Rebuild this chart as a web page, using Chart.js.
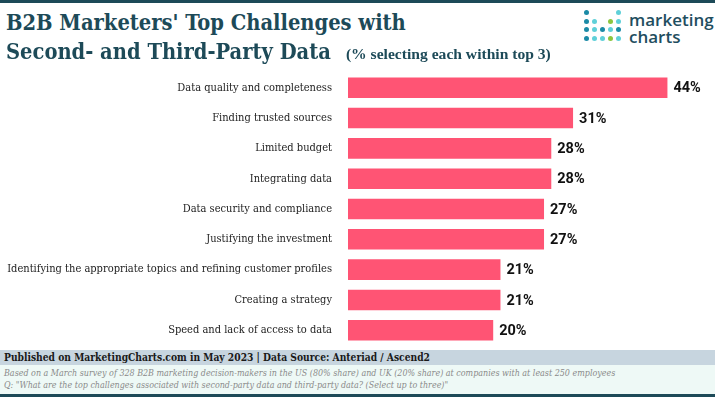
<!DOCTYPE html>
<html>
<head>
<meta charset="utf-8">
<script src="https://cdn.jsdelivr.net/npm/chart.js@4"></script>
<style>
  html, body { margin: 0; padding: 0; background: #fff; }
  #wrap { position: relative; width: 715px; height: 397px; overflow: hidden; background: #fff; }
  .topline { position: absolute; left: 0; top: 0; width: 715px; height: 3px; background: #1d4a58; }
  .title { position: absolute; left: 6px; font-family: "DejaVu Serif Condensed", "DejaVu Serif", serif; font-weight: bold; color: #1d4a58; font-size: 21.7px; line-height: 1; white-space: nowrap; }
  .sub { font-family: "Liberation Serif", serif; font-size: 15.6px; font-weight: bold; margin-left: 15px; }
  #chartBox { position: absolute; left: 0; top: 58px; width: 715px; height: 302px; }
  .pub { position: absolute; left: 0; top: 350px; width: 715px; height: 15px; background: #c7d5df; font-family: "DejaVu Serif Condensed", serif; font-weight: bold; font-size: 10.2px; color: #1a1a1a; line-height: 15px; padding-left: 4px; box-sizing: border-box; white-space: nowrap; }
  .notes { position: absolute; left: 0; top: 365px; width: 715px; height: 29px; background: #eef9f6; font-family: "DejaVu Serif Condensed", serif; font-style: italic; font-size: 8.9px; color: #8a8a8a; line-height: 11.5px; padding: 3px 0 0 4px; box-sizing: border-box; white-space: nowrap; }
  .botline { position: absolute; left: 0; top: 394px; width: 715px; height: 3px; background: #1d4a58; }
  .dot { position: absolute; width: 5px; height: 5px; border-radius: 50%; }
  .logo { position: absolute; left: 629px; font-family: "Open Sans", sans-serif; font-weight: 600; font-size: 17px; color: #1f4e5f; line-height: 18px; }
</style>
</head>
<body>
<div id="wrap">
  <div class="topline"></div>
  <div id="chartBox"><canvas id="barChart"></canvas></div>
  <div class="title" style="top:11.5px;">B2B Marketers' Top Challenges with</div>
  <div class="title" style="top:40.5px;">Second- and Third-Party Data<span class="sub">(% selecting each within top 3)</span></div>
  <div id="logoDots"></div>
  <div class="logo" style="top:11px;">marketing</div>
  <div class="logo" style="top:28px;">charts</div>
  <div class="pub">Published on MarketingCharts.com in May 2023 | Data Source: Anteriad / Ascend2</div>
  <div class="notes">Based on a March survey of 328 B2B marketing decision-makers in the US (80% share) and UK (20% share) at companies with at least 250 employees<br>Q: "What are the top challenges associated with second-party data and third-party data? (Select up to three)"</div>
  <div class="botline"></div>
</div>
<script>
const categories = [
    'Data quality and completeness',
    'Finding trusted sources',
    'Limited budget',
    'Integrating data',
    'Data security and compliance',
    'Justifying the investment',
    'Identifying the appropriate topics and refining customer profiles',
    'Creating a strategy',
    'Speed and lack of access to data'
];
const shares = [44, 31, 28, 28, 27, 27, 21, 21, 20];

// logo dots (col, row, colour)
const logoDots = [
    [0, 0, '#1b8aa6'], [4, 0, '#5fd0d8'],
    [0, 1, '#1b8aa6'], [1, 1, '#5fd0d8'], [3, 1, '#8cc63f'], [4, 1, '#5fd0d8'],
    [0, 2, '#1b8aa6'], [1, 2, '#5fd0d8'], [2, 2, '#1b8aa6'], [3, 2, '#5fd0d8'], [4, 2, '#1b8aa6'],
    [0, 3, '#1b8aa6'], [1, 3, '#5fd0d8'], [2, 3, '#5fd0d8'], [3, 3, '#8cc63f'], [4, 3, '#5fd0d8']
];
const dotsBox = document.getElementById('logoDots');
logoDots.forEach(d => {
    const el = document.createElement('div');
    el.className = 'dot';
    el.style.left = (584 + d[0] * 8) + 'px';
    el.style.top = (10 + d[1] * 8.7) + 'px';
    el.style.background = d[2];
    dotsBox.appendChild(el);
});

// draw the % labels at the end of each bar
const valueLabels = {
    id: 'valueLabels',
    afterDatasetsDraw(chart) {
        const ctx = chart.ctx;
        const meta = chart.getDatasetMeta(0);
        ctx.save();
        ctx.font = 'bold 14.5px Roboto, sans-serif';
        ctx.fillStyle = '#111';
        ctx.textBaseline = 'middle';
        ctx.textAlign = 'left';
        meta.data.forEach((bar, i) => {
            ctx.fillText(chart.data.datasets[0].data[i] + '%', bar.x + 6, bar.y + 1);
        });
        ctx.restore();
    }
};

const ctx = document.getElementById('barChart').getContext('2d');
new Chart(ctx, {
    type: 'bar',
    data: {
        labels: categories,
        datasets: [{
            data: shares,
            backgroundColor: '#ff5474',
            borderWidth: 0,
            barPercentage: 0.68,
            categoryPercentage: 1
        }]
    },
    options: {
        indexAxis: 'y',
        responsive: true,
        maintainAspectRatio: false,
        animation: false,
        layout: { padding: { top: 3, bottom: 4, right: 4 } },
        plugins: {
            legend: { display: false },
            title: { display: false },
            tooltip: { enabled: false }
        },
        scales: {
            x: {
                display: false,
                min: 0,
                max: 50
            },
            y: {
                grid: { display: false },
                border: { display: false },
                afterFit: function (scale) { scale.width = 348; },
                ticks: {
                    padding: 8,
                    color: '#222',
                    font: { family: 'DejaVu Serif Condensed', size: 11 }
                }
            }
        }
    },
    plugins: [valueLabels]
});
</script>
</body>
</html>
